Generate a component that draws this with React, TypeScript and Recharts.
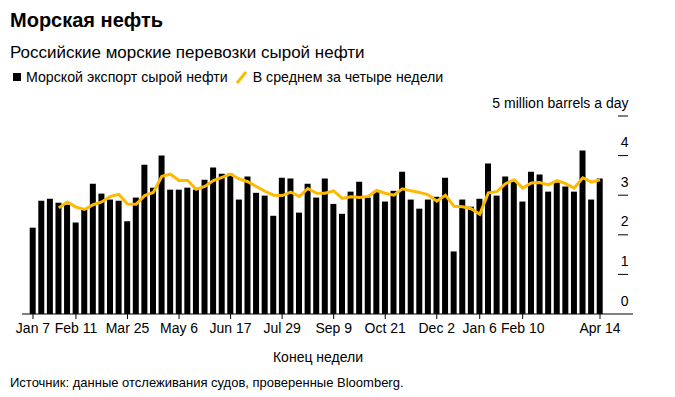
import React from 'react';
import { ComposedChart, Bar, Line, XAxis, YAxis } from 'recharts';

const weeks = [
  'Jan 7', 'Jan 14', 'Jan 21', 'Jan 28', 'Feb 4', 'Feb 11', 'Feb 18', 'Feb 25', 'Mar 4', 'Mar 11',
  'Mar 18', 'Mar 25', 'Apr 1', 'Apr 8', 'Apr 15', 'Apr 22', 'Apr 29', 'May 6', 'May 13', 'May 20',
  'May 27', 'Jun 3', 'Jun 10', 'Jun 17', 'Jun 24', 'Jul 1', 'Jul 8', 'Jul 15', 'Jul 22', 'Jul 29',
  'Aug 5', 'Aug 12', 'Aug 19', 'Aug 26', 'Sep 2', 'Sep 9', 'Sep 16', 'Sep 23', 'Sep 30', 'Oct 7',
  'Oct 14', 'Oct 21', 'Oct 28', 'Nov 4', 'Nov 11', 'Nov 18', 'Nov 25', 'Dec 2', 'Dec 9', 'Dec 16',
  'Dec 23', 'Dec 30', 'Jan 6', 'Jan 13', 'Jan 20', 'Jan 27', 'Feb 3', 'Feb 10', 'Feb 17', 'Feb 24',
  'Mar 2', 'Mar 9', 'Mar 16', 'Mar 23', 'Mar 30', 'Apr 6', 'Apr 14',
];

const seaborneExports = [
  2.18, 2.86, 2.91, 2.81, 2.76, 2.31, 2.66, 3.29, 3.04, 2.89,
  2.86, 2.34, 2.94, 3.77, 3.19, 4.0, 3.14, 3.14, 3.19, 3.14,
  3.39, 3.70, 3.54, 3.54, 2.89, 3.47, 3.06, 2.99, 2.48, 3.44,
  3.42, 2.56, 3.29, 2.94, 3.42, 2.78, 2.53, 3.09, 3.34, 2.94,
  3.09, 2.84, 3.11, 3.59, 2.89, 2.66, 2.89, 2.96, 3.44, 1.58,
  2.89, 2.71, 2.91, 3.80, 2.99, 3.47, 3.34, 2.84, 3.59, 3.52,
  3.09, 3.32, 3.22, 3.09, 4.13, 2.89, 3.42,
];

const fourWeekAverage = [
  null, null, null, 2.68, 2.83, 2.70, 2.64, 2.76, 2.83, 2.97,
  3.02, 2.78, 2.77, 2.99, 3.07, 3.48, 3.53, 3.37, 3.37, 3.15,
  3.22, 3.37, 3.45, 3.53, 3.41, 3.34, 3.22, 3.10, 3.00, 2.99,
  3.08, 2.97, 3.17, 3.05, 3.05, 3.11, 2.92, 2.96, 2.94, 2.97,
  3.12, 3.05, 3.00, 3.16, 3.11, 3.07, 3.01, 2.85, 3.00, 2.72,
  2.71, 2.66, 2.52, 3.06, 3.09, 3.29, 3.39, 3.18, 3.31, 3.32,
  3.26, 3.37, 3.29, 3.18, 3.44, 3.33, 3.39,
];

const xTickLabels = ['Jan 7', 'Feb 11', 'Mar 25', 'May 6', 'Jun 17', 'Jul 29', 'Sep 9', 'Oct 21', 'Dec 2', 'Jan 6', 'Feb 10', 'Apr 14'];
const yTicks = [0, 1, 2, 3, 4, 5];
const yTopLabel = '5 million barrels a day';

const data = weeks.map((w, i) => ({ week: w, exports: seaborneExports[i], avg: fourWeekAverage[i] }));

const FONT = '"Liberation Sans", Arial, Helvetica, sans-serif';
const YELLOW = '#FDBA00';

const YTick = (props: any) => {
  const { x, y, payload } = props;
  const label = payload.value === 5 ? yTopLabel : String(payload.value);
  return (
    <g>
      {payload.value !== 0 && <line x1={x - 15} x2={x - 5} y1={y} y2={y} stroke="#000" strokeWidth={1} />}
      <text x={x - 4.5} y={y - 8.5} textAnchor="end" fontSize={14} fill="#000" fontFamily={FONT}>
        {label}
      </text>
    </g>
  );
};

const XTick = (props: any) => {
  const { x, y, payload } = props;
  return (
    <g>
      <line x1={x} x2={x} y1={y - 9} y2={y - 4} stroke="#000" strokeWidth={1} />
      <text x={x} y={y + 10} textAnchor="middle" fontSize={14} fill="#000" fontFamily={FONT}>
        {payload.value}
      </text>
    </g>
  );
};

export default function App() {
  return (
    <div style={{ position: 'absolute', left: 0, top: 0, width: 675, height: 397, background: '#fff', fontFamily: FONT, color: '#000' }}>
      <div style={{ position: 'absolute', left: 10, top: 8, fontSize: 20, lineHeight: '24px', fontWeight: 700 }}>Морская нефть</div>
      <div style={{ position: 'absolute', left: 10, top: 43, fontSize: 17, lineHeight: '20px' }}>Российские морские перевозки сырой нефти</div>
      <div style={{ position: 'absolute', left: 10, top: 68, height: 18, fontSize: 14.2, lineHeight: '18px', display: 'flex', alignItems: 'center' }}>
        <span style={{ display: 'inline-block', width: 8, height: 8, background: '#000', marginLeft: 3, marginRight: 5 }} />
        <span>Морской экспорт сырой нефти</span>
        <svg width={14} height={14} style={{ marginLeft: 7, marginRight: 4 }}>
          <line x1={2} y1={13} x2={11} y2={2} stroke={YELLOW} strokeWidth={3} />
        </svg>
        <span>В среднем за четыре недели</span>
      </div>
      <div style={{ position: 'absolute', left: 218, width: 200, top: 348, fontSize: 14, lineHeight: '18px', textAlign: 'center' }}>Конец недели</div>
      <div style={{ position: 'absolute', left: 10, top: 375, fontSize: 13, lineHeight: '16px' }}>Источник: данные отслеживания судов, проверенные Bloomberg.</div>
      <div style={{ position: 'absolute', left: 0, top: 0 }}>
        <ComposedChart width={675} height={397} data={data} margin={{ top: 116, right: 41, bottom: 53, left: 22 }}>
          <XAxis
            dataKey="week"
            ticks={xTickLabels}
            interval={0}
            tick={<XTick />}
            tickLine={false}
            tickSize={0}
            tickMargin={9}
            height={30}
            axisLine={{ stroke: '#000', strokeWidth: 1 }}
            padding={{ left: 6.7, right: 28.7 }}
          />
          <YAxis
            orientation="right"
            domain={[0, 5]}
            ticks={yTicks}
            width={1}
            axisLine={false}
            tickLine={false}
            tickSize={0}
            tickMargin={0}
            tick={<YTick />}
            interval={0}
          />
          <Bar dataKey="exports" fill="#000" barSize={6} isAnimationActive={false} />
          <Line dataKey="avg" type="linear" stroke={YELLOW} strokeWidth={3} dot={false} activeDot={false} connectNulls={false} isAnimationActive={false} />
        </ComposedChart>
      </div>
    </div>
  );
}
